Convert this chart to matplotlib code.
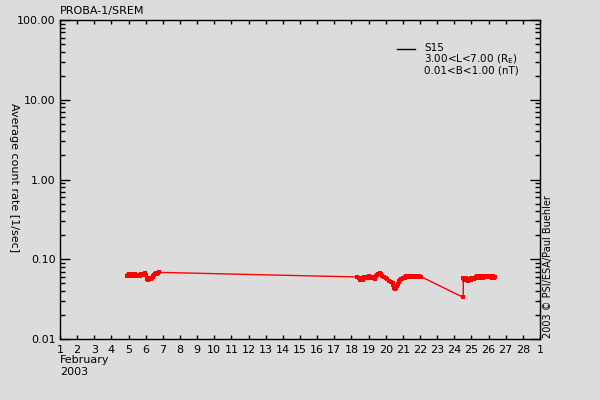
import matplotlib
matplotlib.use("Agg")
import matplotlib.pyplot as plt
from matplotlib.transforms import IdentityTransform
from matplotlib.ticker import LogLocator, NullFormatter, FixedLocator, FixedFormatter

# ---- data (day of February 2003, average count rate [1/sec]) ----
days = [
    4.90, 4.95, 5.00, 5.05, 5.10, 5.15, 5.20, 5.25, 5.30, 5.35, 5.40, 5.45, 5.50,
    5.55, 5.60, 5.65, 5.70, 5.75, 5.80, 5.85, 5.90, 5.95, 6.00, 6.05, 6.10, 6.15,
    6.20, 6.25, 6.30, 6.35, 6.40, 6.45, 6.50, 6.55, 6.60, 6.65, 6.70, 6.75,
    18.30,
    18.45, 18.50, 18.55, 18.60, 18.65, 18.70, 18.75, 18.80, 18.85, 18.90, 18.95,
    19.00, 19.05, 19.10, 19.15, 19.20, 19.25, 19.30, 19.35, 19.40, 19.45, 19.50,
    19.55, 19.60, 19.65, 19.70, 19.80, 19.90, 20.00, 20.10, 20.20, 20.30, 20.40,
    20.45, 20.50, 20.55, 20.60, 20.65, 20.70, 20.75, 20.80, 20.85, 20.90, 20.95,
    21.00, 21.05, 21.10, 21.15, 21.20, 21.25, 21.30, 21.35, 21.40, 21.45, 21.50,
    21.55, 21.60, 21.65, 21.70, 21.75, 21.80, 21.85, 21.90, 21.95, 22.05,
    24.52,
    24.53, 24.55, 24.60, 24.65, 24.70, 24.75, 24.80, 24.85, 24.90, 24.95, 25.00,
    25.05, 25.10, 25.15, 25.20, 25.25, 25.30, 25.35, 25.40, 25.45, 25.50, 25.55,
    25.60, 25.65, 25.70, 25.75, 25.80, 25.85, 25.90, 25.95, 26.00, 26.05, 26.10,
    26.15, 26.20, 26.25, 26.30, 26.35,
]
rates = [
    0.0625, 0.0640, 0.0620, 0.0645, 0.0630, 0.0615, 0.0640, 0.0650, 0.0625, 0.0645,
    0.0635, 0.0615, 0.0625, 0.0610, 0.0630, 0.0615, 0.0635, 0.0645, 0.0640, 0.0650,
    0.0660, 0.0675, 0.0640, 0.0585, 0.0560, 0.0550, 0.0565, 0.0575, 0.0570, 0.0590,
    0.0600, 0.0620, 0.0630, 0.0650, 0.0665, 0.0660, 0.0680, 0.0685,
    0.0600,
    0.0580, 0.0555, 0.0590, 0.0570, 0.0550, 0.0585, 0.0600, 0.0575, 0.0595, 0.0580,
    0.0600, 0.0590, 0.0610, 0.0595, 0.0605, 0.0590, 0.0600, 0.0575, 0.0560, 0.0590,
    0.0615, 0.0630, 0.0645, 0.0660, 0.0665, 0.0650, 0.0625, 0.0600, 0.0580, 0.0560,
    0.0540, 0.0520, 0.0500, 0.0470, 0.0440, 0.0425, 0.0435, 0.0460, 0.0490, 0.0515,
    0.0535, 0.0550, 0.0560, 0.0570, 0.0580, 0.0590, 0.0605, 0.0590, 0.0610, 0.0600,
    0.0615, 0.0595, 0.0620, 0.0605, 0.0615, 0.0625, 0.0600, 0.0620, 0.0610, 0.0625,
    0.0605, 0.0620, 0.0610, 0.0615, 0.0606,
    0.0333,
    0.0580, 0.0555, 0.0590, 0.0545, 0.0575, 0.0560, 0.0540, 0.0565, 0.0550, 0.0575,
    0.0555, 0.0570, 0.0580, 0.0560, 0.0585, 0.0600, 0.0590, 0.0610, 0.0595, 0.0615,
    0.0600, 0.0585, 0.0605, 0.0590, 0.0610, 0.0600, 0.0615, 0.0595, 0.0610, 0.0600,
    0.0620, 0.0605, 0.0625, 0.0600, 0.0590, 0.0610, 0.0580, 0.0595,
]
x_ticks = list(range(1, 30))
x_tick_labels = [str(d) for d in range(1, 29)] + ["1"]
y_ticks = [0.01, 0.1, 1, 10, 100]
y_tick_labels = ["0.01", "0.10", "1.00", "10.00", "100.00"]
legend_lines = ["S15", r"3.00<L<7.00 (R$_\mathrm{E}$)", "0.01<B<1.00 (nT)"]

BG = "#dcdcdc"
FS = 8
plt.rcParams["font.family"] = ["DejaVu Sans"]

fig = plt.figure(figsize=(6, 4), dpi=100, facecolor=BG)
ax = fig.add_axes([0.1, 0.1525, 0.8, 0.7975], facecolor=BG)

ax.plot(days, rates, color="red", lw=1.0, marker="s", ms=2.2, mew=0)

ax.set_yscale("log")
ax.set_xlim(1, 29)
ax.set_ylim(0.01, 100)

ax.xaxis.set_major_locator(FixedLocator(x_ticks))
ax.xaxis.set_major_formatter(FixedFormatter(x_tick_labels))
ax.yaxis.set_major_locator(FixedLocator(y_ticks))
ax.yaxis.set_major_formatter(FixedFormatter(y_tick_labels))
ax.yaxis.set_minor_locator(LogLocator(base=10, subs=range(2, 10), numticks=20))
ax.yaxis.set_minor_formatter(NullFormatter())

ax.tick_params(axis="y", which="major", direction="in", length=7, width=1,
               left=True, right=True, labelsize=FS, pad=3)
ax.tick_params(axis="y", which="minor", direction="in", length=3.6, width=1,
               left=True, right=True)
ax.tick_params(axis="x", which="major", direction="in", length=3, width=1,
               top=True, bottom=True, labelsize=FS, pad=4)
for s in ax.spines.values():
    s.set_color("black")
    s.set_linewidth(1)

# title and annotations
fig.text(60 / 600, 1 - 11 / 400, "PROBA-1/SREM", fontsize=FS, ha="left", va="center")
fig.text(60 / 600, 1 - 366 / 400, "February\n2003", fontsize=FS, ha="left",
         va="center", linespacing=1.3)
fig.text(14 / 600, 1 - 178 / 400, "Average count rate [1/sec]", fontsize=FS,
         rotation=-90, ha="center", va="center")
fig.text(548 / 600, 1 - 338 / 400, "2003 \u00a9 PSI/ESA/Paul Buehler", fontsize=7,
         rotation=90, ha="center", va="bottom")

# legend
ax.plot([397, 415], [351, 351], color="black", lw=1,
        transform=IdentityTransform(), clip_on=False)
fig.text(424 / 600, 1 - 43 / 400, "\n".join(legend_lines), fontsize=7.5,
         ha="left", va="top", linespacing=0.95)

fig.savefig("out.png", dpi=100, facecolor=BG)
